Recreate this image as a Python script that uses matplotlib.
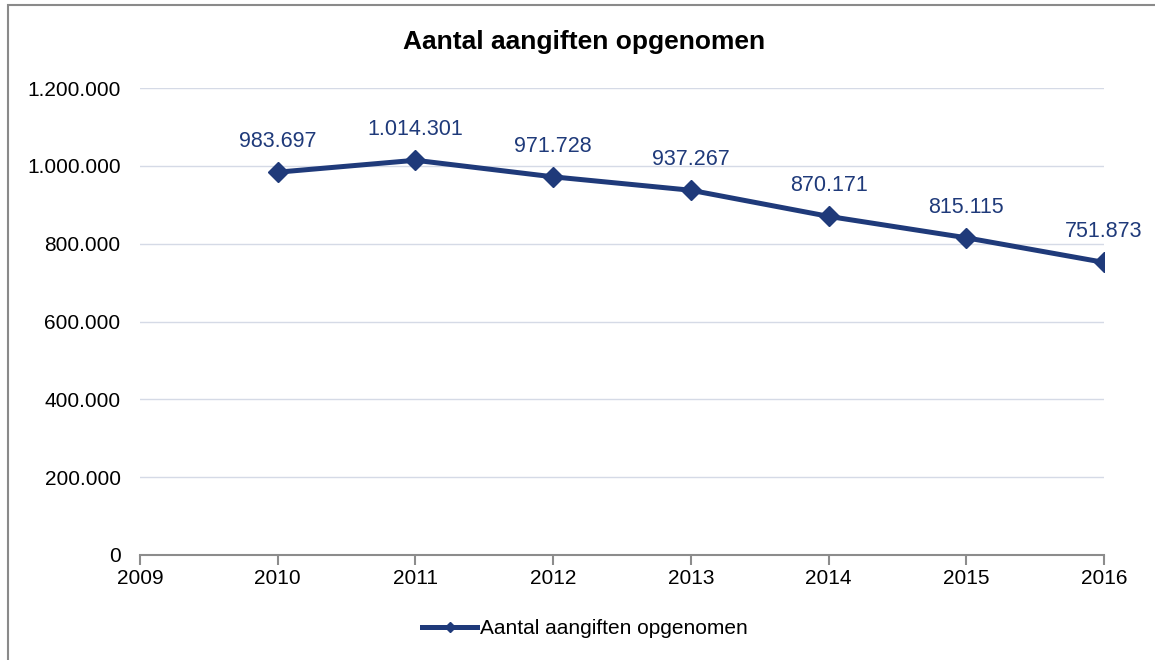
import matplotlib.pyplot as plt
from matplotlib.patches import Rectangle
from matplotlib.ticker import FuncFormatter

# data
years = [2010, 2011, 2012, 2013, 2014, 2015, 2016]
aangiften = [983697, 1014301, 971728, 937267, 870171, 815115, 751873]
series_name = 'Aantal aangiften opgenomen'
title = 'Aantal aangiften opgenomen'

navy = '#1f3a7a'
plt.rcParams['font.family'] = ['Liberation Sans', 'DejaVu Sans']


def dutch_thousands(v, pos=None):
    return f"{int(round(v)):,}".replace(',', '.')


fig = plt.figure(figsize=(11.55, 6.6), dpi=100)
ax = fig.add_axes([140 / 1155, 1 - 555 / 660, (1104 - 140) / 1155, (555 - 88) / 660])

ax.plot(years, aangiften, color=navy, linewidth=3.6, marker='D', markersize=10.5,
        label=series_name, zorder=5)

for x, y in zip(years, aangiften):
    ax.annotate(dutch_thousands(y), (x, y), xytext=(0, 22), textcoords='offset points',
                ha='center', va='center', fontsize=15.5, color=navy)

ax.set_xlim(2009, 2016)
ax.set_ylim(0, 1200000)
ax.set_xticks(range(2009, 2017))
ax.set_yticks(range(0, 1200001, 200000))
ax.yaxis.set_major_formatter(FuncFormatter(dutch_thousands))
ax.grid(axis='y', color='#d5dae6', linewidth=1)
ax.set_axisbelow(True)

for s in ['left', 'right', 'top']:
    ax.spines[s].set_visible(False)
ax.spines['bottom'].set_color('#8c8c8c')
ax.spines['bottom'].set_linewidth(1.5)
ax.tick_params(axis='x', length=7, width=1.5, color='#8c8c8c', labelsize=15, pad=3)
ax.tick_params(axis='y', length=0, labelsize=15, pad=14)

fig.text(584 / 1155, 1 - 42 / 660, title, ha='center', va='center',
         fontsize=19, fontweight='bold')

fig.legend(loc='center', bbox_to_anchor=(585 / 1155, 1 - 629 / 660), frameon=False,
           fontsize=15, handlelength=2.6, handletextpad=0.15, markerscale=0.5)

fig.patches.append(Rectangle((8 / 1155, -0.05), 1.2, 1 - 5 / 660 + 0.05,
                             transform=fig.transFigure, fill=False,
                             edgecolor='#8a8a8a', linewidth=1.5))

fig.savefig('out.png', dpi=100)
